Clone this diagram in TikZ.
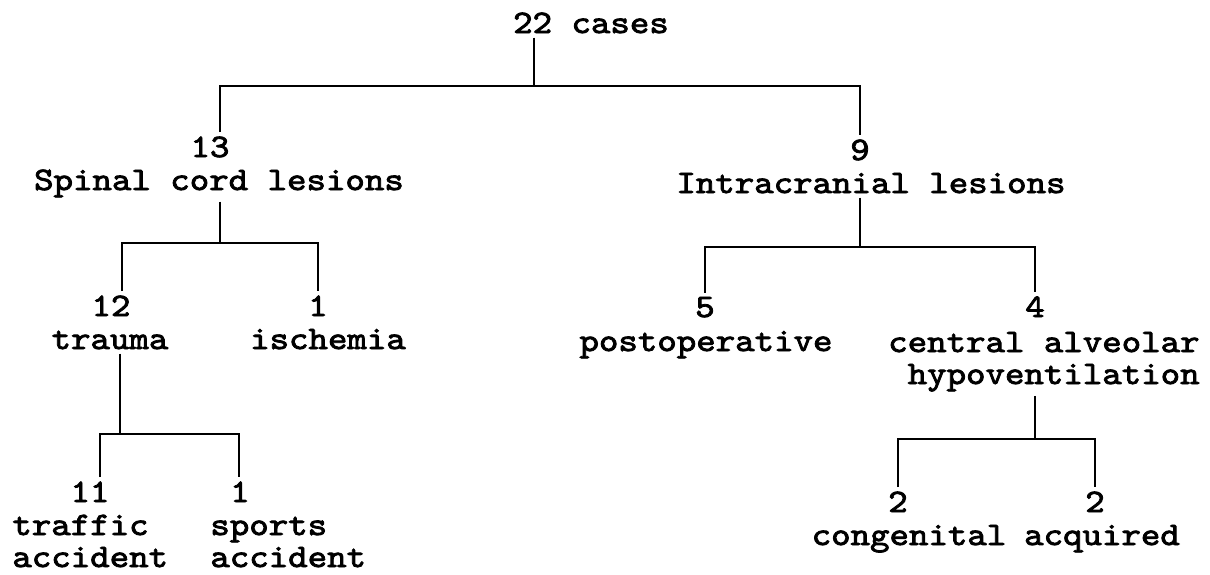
\documentclass[tikz,border=0pt]{standalone}
\usepackage{fontspec}
\newfontfamily\typew[FakeStretch=1.13,FakeBold=2.5]{lmmono10-regular.otf}
\usepackage{tikz}
\usetikzlibrary{positioning, calc}

\tikzset{
  lbl/.style={inner sep=2pt, anchor=base, font=\typew\fontsize{16.4pt}{16pt}\selectfont},
  brk/.style={line width=1.45pt}
}

\begin{document}
\begin{tikzpicture}[x=0.5pt, y=-0.5pt]
  \useasboundingbox (0,0) rectangle (1210,574);

  % top level
  \node[lbl] (cases) at (591,33) {22 cases};
  \node[lbl] (n13) at (210,157) {13};
  \node[lbl] (spinal) at (219,190) {Spinal cord lesions};
  \node[lbl] (n9) at (860,160) {9};
  \node[lbl] (intra) at (871,193) {Intracranial lesions};

  % spinal cord branch
  \node[lbl] (n12) at (111,316) {12};
  \node[lbl] (trauma) at (110,349) {trauma};
  \node[lbl] (n1a) at (318,316) {1};
  \node[lbl] (isch) at (328,349) {ischemia};
  \node[lbl] (n11) at (90,502) {11};
  \node[lbl, anchor=base west, align=left] (traffic) at (8,567) {traffic\\accident};
  \node[lbl] (n1b) at (240,502) {1};
  \node[lbl, anchor=base west, align=left] (sports) at (206,567) {sports\\accident};

  % intracranial branch
  \node[lbl] (n5) at (705,317) {5};
  \node[lbl] (postop) at (706,351) {postoperative};
  \node[lbl] (n4) at (1035,317) {4};
  \node[lbl, anchor=base east, align=right] (cah) at (1204,384) {central alveolar\\hypoventilation};
  \node[lbl] (n2a) at (898,512) {2};
  \node[lbl] (cong) at (909,545) {congenital};
  \node[lbl] (n2b) at (1095,512) {2};
  \node[lbl] (acq) at (1102,545) {acquired};

  % brackets
  \coordinate (j0) at (534,86);
  \coordinate (l0) at (220,86);
  \coordinate (r0) at (860,86);
  \draw[brk] (cases.south -| j0) -- (j0);
  \draw[brk] (n13.north -| l0) -- (l0) -- (r0) -- (n9.north);

  \coordinate (j1) at (220,243);
  \coordinate (l1) at (122,243);
  \coordinate (r1) at (318,243);
  \draw[brk] (spinal.south -| j1) -- (j1);
  \draw[brk] (n12.north -| l1) -- (l1) -- (r1) -- (n1a.north);

  \coordinate (j2) at (860,247);
  \coordinate (l2) at (705,247);
  \coordinate (r2) at (1035,247);
  \draw[brk] (intra.south -| j2) -- (j2);
  \draw[brk] (n5.north) -- (l2) -- (r2) -- (n4.north);

  \coordinate (j3) at (120,434);
  \coordinate (l3) at (100,434);
  \coordinate (r3) at (239,434);
  \draw[brk] (trauma.south -| j3) -- (j3);
  \draw[brk] (n11.north -| l3) -- (l3) -- (r3) -- (n1b.north -| r3);

  \coordinate (j4) at (1035,439);
  \coordinate (l4) at (898,439);
  \coordinate (r4) at (1095,439);
  \draw[brk] (cah.south -| j4) -- (j4);
  \draw[brk] (n2a.north) -- (l4) -- (r4) -- (n2b.north);
\end{tikzpicture}
\end{document}
